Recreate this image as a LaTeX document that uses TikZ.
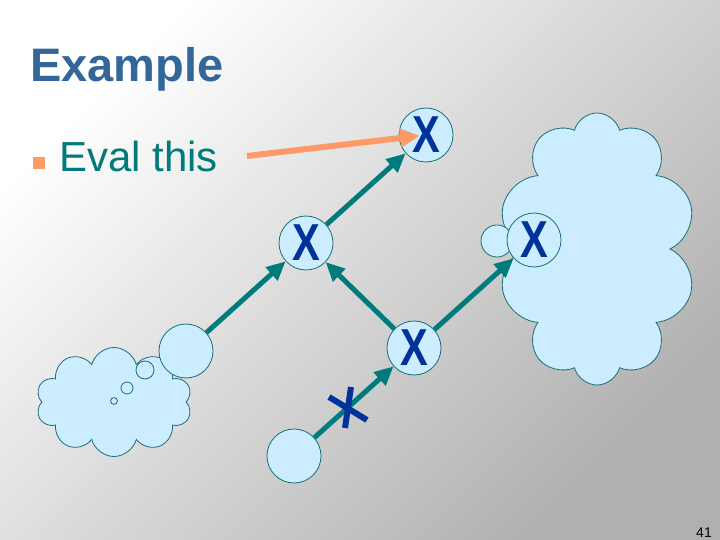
\documentclass[tikz,border=0pt]{standalone}
\usepackage{fontspec}
\setmainfont{Liberation Sans}
\usetikzlibrary{positioning,arrows.meta,shapes.symbols}
\definecolor{titleblue}{HTML}{336699}
\definecolor{tealink}{HTML}{007B7B}
\definecolor{edgeteal}{HTML}{1A6F73}
\definecolor{bubble}{HTML}{CCECFF}
\definecolor{xblue}{HTML}{003399}
\definecolor{peach}{HTML}{FF9966}
\newcommand{\BigX}{\scalebox{0.8}[1]{X}}
\tikzset{
  ball/.style={circle, draw=edgeteal, fill=bubble, line width=0.8pt,
    minimum size=54pt, inner sep=0pt, text=xblue,
    font=\fontsize{52}{52}\selectfont\bfseries},
  puff/.style={cloud, draw=edgeteal, fill=bubble, line width=0.8pt, inner sep=0pt},
  flow/.style={draw=tealink, line width=5pt,
    -{Triangle[length=19pt,width=17pt]}},
}
\begin{document}
\begin{tikzpicture}[x=1pt,y=-1pt]
  \useasboundingbox (0,0) rectangle (720,540);
  \shade[top color=white, bottom color=black!31, shading angle=45]
    (0,0) rectangle (720,540);

  % title and bullet
  \node[anchor=base west, text=titleblue, font=\fontsize{47}{50}\selectfont\bfseries,
        inner sep=0pt] (title) at (30,82) {Example};
  \fill[peach] (33,157) rectangle (45,169);
  \node[anchor=base west, text=tealink, font=\fontsize{42}{46}\selectfont,
        inner sep=0pt] (evaltxt) at (59,172) {Eval this};
  \coordinate (evalstart) at (247,156);

  % clouds
  \node[puff, cloud puffs=10, aspect=1.4, minimum width=156pt, minimum height=109pt]
    (leftcloud) at (114,402) {};
  \node[puff, cloud puffs=10, aspect=0.73, minimum width=198pt, minimum height=272pt]
    (rightcloud) at (597,249) {};
  \foreach \cx/\cy/\r in {145/370/9, 127/388/6, 114/401/3.4, 497/241/16}
    \draw[edgeteal, line width=0.8pt, fill=bubble] (\cx,\cy) circle (\r);

  % the tree
  \node[ball] (top)   at (426,135) {\BigX};
  \node[ball] (mid)   at (306,243) {\BigX};
  \node[ball] (rgt)   at (534,240) {\BigX};
  \node[ball] (bot)   at (414,348) {\BigX};
  \node[ball] (leaf)  at (186,351) {};
  \node[ball] (start) at (294,456) {};

  \draw[flow] (leaf) -- (mid);
  \draw[flow] (bot) -- (mid);
  \draw[flow] (mid) -- (top);
  \draw[flow] (bot) -- (rgt);
  \draw[flow] (start) -- (bot);
  \draw[peach, line width=6pt, -{Triangle[length=20pt,width=18pt]}, shorten >=6pt]
    (evalstart) -- (top.center);

  % crossed-out edge
  \draw[xblue, line width=6pt] (329,397) -- (367,420) (351,387) -- (345,428);

  \node[anchor=base east, font=\fontsize{14}{16}\selectfont, inner sep=0pt]
    (pageno) at (712,537) {41};
\end{tikzpicture}
\end{document}
